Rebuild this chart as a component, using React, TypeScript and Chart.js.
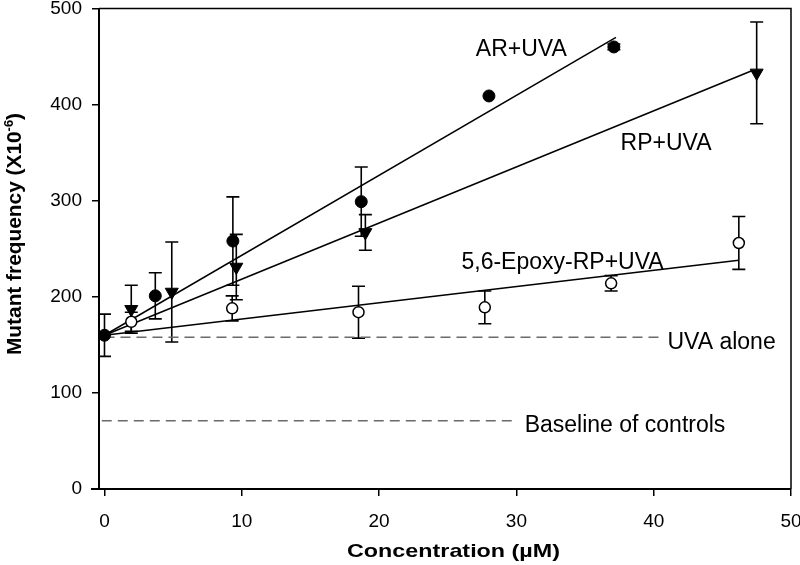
import React, { useEffect, useRef } from "react";
import { Chart, registerables } from "chart.js";

Chart.register(...registerables);

// ---- Data ----
const arX = [0, 3.7, 9.35, 18.7, 28.0, 37.1];
const arY = [160, 201, 258, 299, 409, 460];
const arErr = [22, 24, 46, 36, 0, 3];

const rpX = [1.95, 4.9, 9.6, 19.0, 47.5];
const rpY = [187, 205, 231, 267, 433];
const rpErr = [25, 52, 34, 18.5, 53];

const epX = [1.95, 9.3, 18.5, 27.7, 36.9, 46.2];
const epY = [174, 188, 184, 189, 214, 256];
const epErr = [10, 13, 27, 17, 8, 27.5];

const arFitX = [0, 37.25];
const arFitY = [160, 470];
const rpFitX = [0, 47.1];
const rpFitY = [160, 435];
const epFitX = [0, 46.2];
const epFitY = [160, 238];

const uvaAloneX = [0, 40.4];
const uvaAloneY = [158, 158];
const baselineX = [-0.2, 30.1];
const baselineY = [71, 71];

const xTicks = [0, 10, 20, 30, 40, 50];
const yTicks = [0, 100, 200, 300, 400, 500];

const seriesLabels = ["AR+UVA", "RP+UVA", "5,6-Epoxy-RP+UVA", "UVA alone", "Baseline of controls"];

const FONT = "'Liberation Sans', Arial, Helvetica, sans-serif";

const pts = (xs: number[], ys: number[]) => xs.map((x, i) => ({ x, y: ys[i] }));

export default function App() {
  const ref = useRef<HTMLCanvasElement>(null);

  useEffect(() => {
    document.body.style.margin = "0";
    const canvas = ref.current!;

    const errorBarPlugin = {
      id: "errorBars",
      beforeDatasetsDraw(chart: any) {
        const ctx = chart.ctx;
        const ys = chart.scales.y;
        chart.data.datasets.forEach((ds: any, i: number) => {
          if (!ds.errorBars) return;
          const meta = chart.getDatasetMeta(i);
          meta.data.forEach((el: any, j: number) => {
            const e = ds.errorBars[j];
            if (!e) return;
            const v = ds.data[j].y;
            const top = ys.getPixelForValue(v + e);
            const bot = ys.getPixelForValue(v - e);
            ctx.save();
            ctx.strokeStyle = "#000";
            ctx.lineWidth = 1.6;
            ctx.beginPath();
            ctx.moveTo(el.x, top);
            ctx.lineTo(el.x, bot);
            ctx.moveTo(el.x - 6.5, top);
            ctx.lineTo(el.x + 6.5, top);
            ctx.moveTo(el.x - 6.5, bot);
            ctx.lineTo(el.x + 6.5, bot);
            ctx.stroke();
            ctx.restore();
          });
        });
      },
    };

    const framePlugin = {
      id: "frame",
      afterDraw(chart: any) {
        const { ctx, chartArea: a } = chart;
        ctx.save();
        ctx.strokeStyle = "#000";
        ctx.lineWidth = 2;
        ctx.beginPath();
        ctx.moveTo(a.left, a.top);
        ctx.lineTo(a.left, a.bottom);
        ctx.moveTo(a.left - 8, a.bottom);
        ctx.lineTo(a.right, a.bottom);
        ctx.stroke();
        ctx.lineWidth = 1.5;
        ctx.beginPath();
        ctx.moveTo(a.left, a.top);
        ctx.lineTo(a.right, a.top);
        ctx.lineTo(a.right, a.bottom);
        ctx.stroke();
        ctx.restore();
      },
    };

    const labelPos = [
      { x: 30.36, y: 450.4, align: "center" },
      { x: 40.9, y: 352.3, align: "center" },
      { x: 26.0, y: 229.3, align: "left" },
      { x: 41.0, y: 145.7, align: "left" },
      { x: 30.6, y: 59, align: "left" },
    ];

    const labelPlugin = {
      id: "labels",
      afterDraw(chart: any) {
        const { ctx, scales } = chart;
        ctx.save();
        ctx.fillStyle = "#000";
        ctx.font = `23px ${FONT}`;
        ctx.textBaseline = "alphabetic";
        labelPos.forEach((p, i) => {
          ctx.textAlign = p.align;
          ctx.fillText(seriesLabels[i], scales.x.getPixelForValue(p.x), scales.y.getPixelForValue(p.y));
        });
        ctx.restore();
      },
    };

    const titlePlugin = {
      id: "titles",
      afterDraw(chart: any) {
        const { ctx, chartArea: a } = chart;
        // X title
        ctx.save();
        ctx.fillStyle = "#000";
        ctx.font = `bold 19px ${FONT}`;
        const xt = "Concentration (\u00B5M)";
        const w = ctx.measureText(xt).width;
        ctx.translate((a.left + a.right) / 2 + 8.5, 557);
        ctx.scale(213 / w, 1);
        ctx.textAlign = "center";
        ctx.textBaseline = "alphabetic";
        ctx.fillText(xt, 0, 0);
        ctx.restore();

        // Y title with superscript
        ctx.save();
        ctx.fillStyle = "#000";
        const p1 = "Mutant frequency (X10";
        const sup = "-6";
        const p3 = ")";
        ctx.font = `bold 21px ${FONT}`;
        const w1 = ctx.measureText(p1).width;
        const w3 = ctx.measureText(p3).width;
        ctx.font = `bold 13px ${FONT}`;
        const ws = ctx.measureText(sup).width;
        const total = w1 + ws + w3;
        const s = 242 / total;
        ctx.translate(20.5, 234);
        ctx.rotate(-Math.PI / 2);
        ctx.scale(s, 1);
        ctx.textAlign = "left";
        ctx.textBaseline = "alphabetic";
        const x0 = -total / 2;
        ctx.font = `bold 21px ${FONT}`;
        ctx.fillText(p1, x0, 0);
        ctx.font = `bold 13px ${FONT}`;
        ctx.fillText(sup, x0 + w1, -8);
        ctx.font = `bold 21px ${FONT}`;
        ctx.fillText(p3, x0 + w1 + ws, 0);
        ctx.restore();
      },
    };

    const fitLine = (data: any, label: string) => ({
      label,
      data,
      showLine: true,
      pointRadius: 0,
      borderColor: "#000",
      borderWidth: 1.5,
      order: 5,
    });
    const dashLine = (data: any, label: string) => ({
      label,
      data,
      showLine: true,
      pointRadius: 0,
      borderColor: "#6a6a6a",
      borderWidth: 1.5,
      borderDash: [10, 6],
      order: 6,
    });

    const chart = new Chart(canvas, {
      type: "scatter",
      data: {
        datasets: [
          {
            label: seriesLabels[0],
            data: pts(arX, arY),
            errorBars: arErr,
            pointStyle: "circle",
            pointRadius: 6,
            backgroundColor: "#000",
            borderColor: "#000",
            borderWidth: 1,
            order: 0,
          } as any,
          {
            label: seriesLabels[1],
            data: pts(rpX, rpY),
            errorBars: rpErr,
            pointStyle: "triangle",
            pointRotation: 180,
            pointRadius: 7.5,
            backgroundColor: "#000",
            borderColor: "#000",
            borderWidth: 1,
            order: 1,
          } as any,
          {
            label: seriesLabels[2],
            data: pts(epX, epY),
            errorBars: epErr,
            pointStyle: "circle",
            pointRadius: 5.5,
            backgroundColor: "#fff",
            borderColor: "#000",
            borderWidth: 1.5,
            order: 2,
          } as any,
          fitLine(pts(arFitX, arFitY), "AR fit"),
          fitLine(pts(rpFitX, rpFitY), "RP fit"),
          fitLine(pts(epFitX, epFitY), "Epoxy fit"),
          dashLine(pts(uvaAloneX, uvaAloneY), seriesLabels[3]),
          dashLine(pts(baselineX, baselineY), seriesLabels[4]),
        ],
      },
      options: {
        responsive: false,
        animation: false,
        devicePixelRatio: 1,
        layout: { padding: { top: 5, right: 9, left: 0, bottom: 0 } },
        plugins: { legend: { display: false }, tooltip: { enabled: false } },
        scales: {
          x: {
            type: "linear",
            min: -0.4,
            max: 50,
            afterBuildTicks: (s: any) => {
              s.ticks = xTicks.map((v) => ({ value: v }));
            },
            afterFit: (s: any) => {
              s.height = 76;
              s.paddingLeft = 0;
              s.paddingRight = 0;
              s.paddingTop = 0;
              s.paddingBottom = 0;
            },
            ticks: {
              color: "#000",
              font: { family: FONT, size: 19 },
              padding: 14,
              maxRotation: 0,
              autoSkip: false,
            },
            grid: { drawOnChartArea: false, drawTicks: true, tickLength: 7, color: "#000", lineWidth: 1.5 },
            border: { display: false },
          },
          y: {
            type: "linear",
            min: 0,
            max: 500,
            afterBuildTicks: (s: any) => {
              s.ticks = yTicks.map((v) => ({ value: v }));
            },
            afterFit: (s: any) => {
              s.width = 99;
              s.paddingLeft = 0;
              s.paddingRight = 0;
              s.paddingTop = 0;
              s.paddingBottom = 0;
            },
            ticks: {
              color: "#000",
              font: { family: FONT, size: 19 },
              padding: 10,
              autoSkip: false,
            },
            grid: { drawOnChartArea: false, drawTicks: true, tickLength: 7, color: "#000", lineWidth: 1.5 },
            border: { display: false },
          },
        },
      } as any,
      plugins: [errorBarPlugin, framePlugin, labelPlugin, titlePlugin],
    });

    return () => chart.destroy();
  }, []);

  return (
    <div style={{ width: 800, height: 565, position: "relative", background: "#fff" }}>
      <canvas ref={ref} width={800} height={565} style={{ display: "block" }} />
    </div>
  );
}
